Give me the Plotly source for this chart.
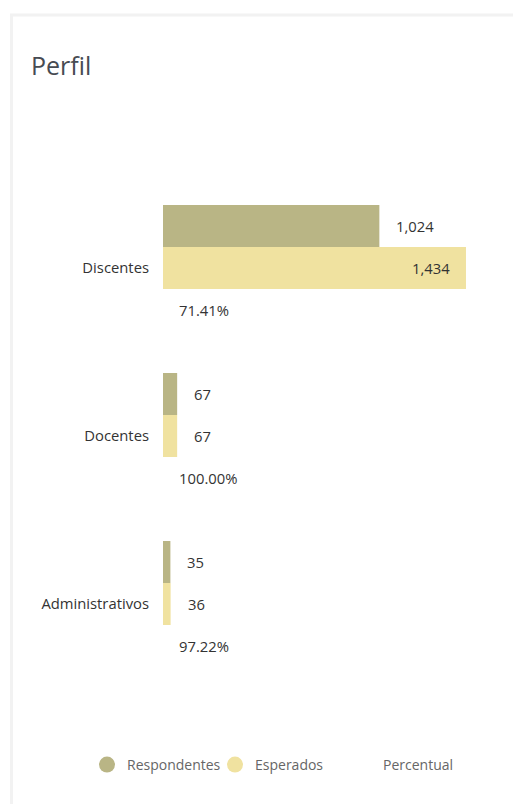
import plotly.graph_objects as go

# ---- data ----
categories = ["Discentes", "Docentes", "Administrativos"]
respondentes = [1024, 67, 35]
esperados = [1434, 67, 36]
percentual = [71.41, 100.00, 97.22]
series_names = ["Respondentes", "Esperados", "Percentual"]

# ---- style ----
W, H = 521, 804
OFF = 8  # page body margin
C_RESP = "#b9b585"
C_ESP = "#f0e2a0"
TXT = "#333333"
FONT = "Open Sans"
FS = 14.8

def px_x(p):
    return (p - OFF) / W

def px_y(p):
    return 1 - (p - OFF) / H

X_MAX = 1595

fig = go.Figure()

fig.add_trace(go.Bar(y=categories, x=respondentes, orientation="h", name=series_names[0],
                     marker=dict(color=C_RESP, line=dict(width=0)), showlegend=False))
fig.add_trace(go.Bar(y=categories, x=esperados, orientation="h", name=series_names[1],
                     marker=dict(color=C_ESP, line=dict(width=0)), showlegend=False))
fig.add_trace(go.Bar(y=categories, x=percentual, orientation="h", name=series_names[2],
                     marker=dict(color="rgba(0,0,0,0)", line=dict(width=0)), showlegend=False,
                     hovertemplate="%{y}: %{x:.2f}%<extra></extra>"))

# legend entries (circle markers)
for name, col in zip(series_names, [C_RESP, C_ESP, "rgba(0,0,0,0)"]):
    fig.add_trace(go.Scatter(x=[None], y=[None], mode="markers", name=name,
                             marker=dict(symbol="circle", size=16, color=col)))

annotations = []
offsets = [-0.25, 0.0, 0.25]
for ti, vals in enumerate([respondentes, esperados]):
    for ci, v in enumerate(vals):
        inside = v > 0.85 * X_MAX
        annotations.append(dict(
            x=v, y=ci + offsets[ti], xref="x", yref="y",
            text=f"{v:,}", showarrow=False,
            xanchor="right" if inside else "left",
            xshift=-14 if inside else 15,
            font=dict(family=FONT, size=FS, color=TXT)))
for ci, p in enumerate(percentual):
    annotations.append(dict(
        x=0, y=ci + offsets[2], xref="x", yref="y",
        text=f"{p:.2f}%", showarrow=False, xanchor="left", xshift=14,
        font=dict(family=FONT, size=FS, color=TXT)))

fig.update_layout(
    width=W, height=H,
    margin=dict(l=0, r=0, t=0, b=0),
    paper_bgcolor="white", plot_bgcolor="white",
    barmode="group", bargap=0.25, bargroupgap=0,
    title=dict(text="Perfil", x=px_x(31), xanchor="left", y=px_y(66), yanchor="middle",
               font=dict(family=FONT, size=25, color="#474b52")),
    xaxis=dict(domain=[px_x(163), px_x(500)], range=[0, X_MAX], visible=False, fixedrange=True),
    yaxis=dict(domain=[px_y(688), px_y(184)], range=[2.5, -0.5], type="category",
               showgrid=False, zeroline=False, showline=False, ticks="",
               ticklabelstandoff=13,
               tickfont=dict(family=FONT, size=FS, color=TXT)),
    legend=dict(orientation="h", x=px_x(87), xanchor="left", y=px_y(765), yanchor="middle",
                font=dict(family=FONT, size=14, color="#666666"), itemclick=False,
                entrywidth=83, entrywidthmode="pixels",
                bgcolor="rgba(0,0,0,0)"),
    annotations=annotations,
    shapes=[dict(type="rect", xref="paper", yref="paper",
                 x0=px_x(11.5), x1=px_x(560), y0=px_y(840), y1=px_y(15),
                 line=dict(color="#f2f2f2", width=3), layer="below")],
    font=dict(family=FONT),
    showlegend=True,
)

fig.write_html("out.html")
